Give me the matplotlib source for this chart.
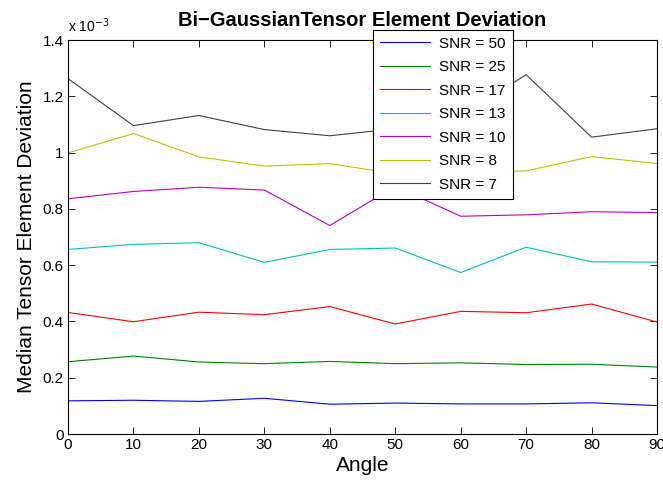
import numpy as np
import matplotlib.pyplot as plt

plt.rcParams['font.family'] = ['Liberation Sans', 'DejaVu Sans']

angles = [0, 10, 20, 30, 40, 50, 60, 70, 80, 90]

# median deviation, in units of 1e-3
snr50 = [0.118, 0.120, 0.116, 0.127, 0.106, 0.110, 0.107, 0.107, 0.111, 0.101]
snr25 = [0.257, 0.277, 0.256, 0.250, 0.258, 0.250, 0.253, 0.247, 0.248, 0.238]
snr17 = [0.432, 0.399, 0.433, 0.424, 0.453, 0.391, 0.436, 0.431, 0.462, 0.398]
snr13 = [0.656, 0.674, 0.680, 0.610, 0.656, 0.661, 0.574, 0.664, 0.612, 0.611]
snr10 = [0.836, 0.862, 0.877, 0.867, 0.741, 0.880, 0.774, 0.779, 0.790, 0.787]
snr8 = [0.999, 1.068, 0.985, 0.952, 0.961, 0.925, 0.930, 0.935, 0.986, 0.961]
snr7 = [1.263, 1.096, 1.132, 1.082, 1.060, 1.085, 1.130, 1.277, 1.055, 1.085]

series = [snr50, snr25, snr17, snr13, snr10, snr8, snr7]
labels = ['SNR = 50', 'SNR = 25', 'SNR = 17', 'SNR = 13', 'SNR = 10', 'SNR = 8', 'SNR = 7']
colors = ['#0000ff', '#008000', '#ff0000', '#00bfbf', '#bf00bf', '#bfbf00', '#404040']

fig = plt.figure(figsize=(6.63, 4.83), dpi=100)
ax = fig.add_axes([0.1026, 0.1014, 0.8884, 0.8156])

for vals, lab, col in zip(series, labels, colors):
    ax.plot(angles, vals, color=col, lw=0.8, label=lab)

ax.set_xlim(0, 90)
ax.set_ylim(0, 1.4)
ax.set_xticks(angles)
yt = np.arange(0, 1.41, 0.2)
ax.set_yticks(yt)
ax.set_yticklabels(['%g' % round(v, 1) for v in yt])
ax.tick_params(direction='in', top=True, right=True, labelsize=11, length=5, width=0.6, pad=3)
for s in ax.spines.values():
    s.set_linewidth(0.8)

ax.set_xlabel('Angle', fontsize=15, labelpad=3)
ax.set_ylabel('Median Tensor Element Deviation', fontsize=15, labelpad=5)
ax.set_title('Bi\u2212GaussianTensor Element Deviation', fontsize=14.5, fontweight='bold', pad=10)
ax.text(0.0, 1.012, 'x 10$^{-3}$', transform=ax.transAxes, fontsize=10, ha='left', va='bottom')

leg = ax.legend(loc='upper left', bbox_to_anchor=(0.5626, 0.938), bbox_transform=fig.transFigure,
                fontsize=11, frameon=True, fancybox=False, framealpha=1, edgecolor='black',
                handlelength=3.3, labelspacing=0.62, borderpad=0.45, handletextpad=0.6,
                borderaxespad=0)
leg.get_frame().set_linewidth(0.8)

fig.savefig('out.png', dpi=100)
